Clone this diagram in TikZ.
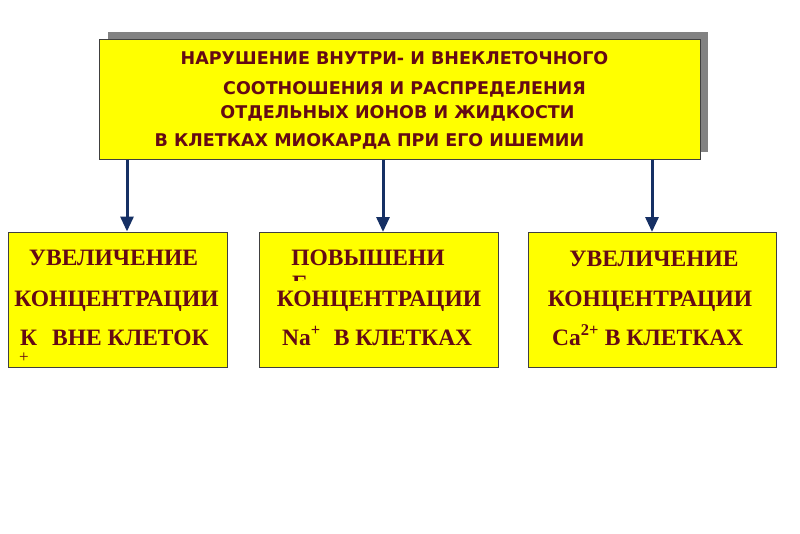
\documentclass[tikz,border=0pt]{standalone}
\usepackage{fontspec}
\setmainfont{Liberation Serif}
\newfontfamily\hdrfont{DejaVu Sans}
\usepackage{xcolor}
\usetikzlibrary{arrows.meta,positioning}
\definecolor{boxyellow}{RGB}{255,255,0}
\definecolor{txtred}{RGB}{100,10,20}
\definecolor{arrnavy}{RGB}{22,48,100}
\definecolor{shdgray}{RGB}{130,130,130}
\tikzset{
  hdrbox/.style  = {rectangle, draw=black!75, fill=boxyellow, line width=1pt,
                    minimum width=601pt, minimum height=120pt, inner sep=0pt},
  cellbox/.style = {rectangle, draw=black!75, fill=boxyellow, line width=1pt,
                    minimum height=135pt, inner sep=0pt},
  shd/.style     = {rectangle, fill=shdgray, draw=none,
                    minimum width=600pt, minimum height=120pt, inner sep=0pt},
  hdrtxt/.style  = {font=\hdrfont\bfseries\fontsize{17.5}{20}\selectfont, text=txtred, inner sep=0pt},
  celltxt/.style = {font=\bfseries\fontsize{23.5}{27}\selectfont, text=txtred, inner sep=0pt},
  fl/.style      = {-{Triangle[length=15pt,width=13pt,fill=arrnavy]}, line width=3pt, arrnavy},
}
\begin{document}
\begin{tikzpicture}[x=1pt, y=-1pt]

  \useasboundingbox[fill=white] (0,0) rectangle (800,533);

  % header with its shadow
  \node[shd] (hdrshd) at (407.5,92) {};
  \node[hdrbox] (hdr) at (399.5,99) {};
  \node[hdrtxt, anchor=base] (h1) at (394.5,64) {НАРУШЕНИЕ ВНУТРИ- И ВНЕКЛЕТОЧНОГО};
  \node[hdrtxt, anchor=base] (h2) at (404.5,94) {СООТНОШЕНИЯ И РАСПРЕДЕЛЕНИЯ};
  \node[hdrtxt, anchor=base] (h3) at (397.5,118) {ОТДЕЛЬНЫХ ИОНОВ И ЖИДКОСТИ};
  \node[hdrtxt, anchor=base] (h4) at (369.5,146.5) {В КЛЕТКАХ МИОКАРДА ПРИ ЕГО ИШЕМИИ};

  % three results
  \node[cellbox, minimum width=219pt] (b1) at (117.5,299.5) {};
  \node[cellbox, minimum width=239pt] (b2) at (378.5,300) {};
  \node[cellbox, minimum width=248pt] (b3) at (652,300) {};

  \node[celltxt, anchor=base] (k1) at (113.5,265) {УВЕЛИЧЕНИЕ};
  \node[celltxt, anchor=base] (k2) at (116.5,306) {КОНЦЕНТРАЦИИ};
  \node[celltxt, anchor=base west] (k3) at (20,345) {К\hspace{15pt}ВНЕ КЛЕТОК};
  \node[font=\fontsize{17}{18}\selectfont, text=txtred, inner sep=0pt] (kplus) at (24,358) {+};

  \node[celltxt, anchor=base] (n1) at (368,265) {ПОВЫШЕНИ};
  \begin{scope}
    \clip (290,274) rectangle (306,280.5);
    \node[celltxt, anchor=base west] (nstub) at (292,291) {Е};
  \end{scope}
  \node[celltxt, anchor=base] (n2) at (379,306) {КОНЦЕНТРАЦИИ};
  \node[celltxt, anchor=base west] (n3) at (282,345) {Na\textsuperscript{+}\hspace{13pt}В КЛЕТКАХ};

  \node[celltxt, anchor=base] (c1) at (654,266) {УВЕЛИЧЕНИЕ};
  \node[celltxt, anchor=base] (c2) at (650,306) {КОНЦЕНТРАЦИИ};
  \node[celltxt, anchor=base west] (c3) at (552,345) {Ca\textsuperscript{2+} В КЛЕТКАХ};

  \draw[fl] ([xshift=9.5pt]b1.north |- hdr.south) -- ([xshift=9.5pt]b1.north);
  \draw[fl] ([xshift=4.5pt]b2.north |- hdr.south) -- ([xshift=4.5pt]b2.north);
  \draw[fl] (b3.north |- hdr.south) -- (b3.north);

\end{tikzpicture}
\end{document}
